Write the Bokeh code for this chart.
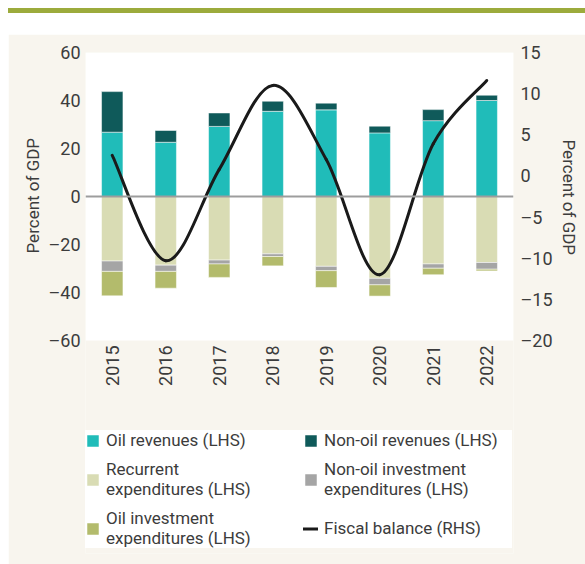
import numpy as np
from bokeh.plotting import figure
from bokeh.models import Range1d, LinearAxis, FixedTicker, Span, Legend, LegendItem, ColumnDataSource, Title
from bokeh.embed import file_html
from bokeh.resources import INLINE
from bokeh.core.properties import value

# ---------------- data ----------------
years = ["2015", "2016", "2017", "2018", "2019", "2020", "2021", "2022"]
oil_revenues = [26.8, 22.6, 29.2, 35.5, 36.1, 26.5, 31.6, 40.0]
non_oil_revenues = [16.9, 4.9, 5.6, 4.2, 2.8, 2.8, 4.6, 2.2]
recurrent_exp = [-26.9, -28.6, -26.5, -23.9, -29.1, -34.1, -28.1, -27.5]
non_oil_invest = [-4.3, -2.6, -1.6, -1.1, -1.8, -2.7, -1.8, -2.8]
oil_invest = [-10.2, -7.0, -5.6, -3.9, -7.0, -4.7, -2.7, -0.7]
fiscal_balance = [2.5, -10.3, 0.8, 11.0, 2.0, -12.0, 3.9, 11.6]

left_ticks = [-60, -40, -20, 0, 20, 40, 60]
left_tick_labels = ["\u201360", "\u201340", "\u201320", "0", "20", "40", "60"]
right_ticks = [-20, -15, -10, -5, 0, 5, 10, 15]
right_tick_labels = ["\u201320", "\u201315", "\u201310", "\u20135", "0", "5", "10", "15"]
axis_title = "Percent of GDP"

labels = ["Oil revenues (LHS)", "Non-oil revenues (LHS)",
          "Recurrent\nexpenditures (LHS)", "Non-oil investment\nexpenditures (LHS)",
          "Oil investment\nexpenditures (LHS)", "Fiscal balance (RHS)"]

# ---------------- style ----------------
FONT = "Roboto"
TXT = "#3c3c3c"
BEIGE = "#f8f5ee"
C_OIL = "#20bcb9"
C_NONOIL = "#0f5a5a"
C_REC = "#d9dcb4"
C_NOINV = "#a5a5a5"
C_OILINV = "#b3bb6c"
C_LINE = "#1a1a1a"

CHART_H = 288      # pixel height of the white plotting panel
EXTRA_H = 213      # pixel space below it for year labels and legend
FRAME_W = 428
TITLE_LEN = 114    # approximate pixel length of the axis titles

lo, hi = min(left_ticks), max(left_ticks)
rlo, rhi = min(right_ticks), max(right_ticks)
y_start = lo - EXTRA_H * (hi - lo) / CHART_H
r_start = rlo - EXTRA_H * (rhi - rlo) / CHART_H

xs = list(range(len(years)))
src = ColumnDataSource(dict(x=xs, oil=oil_revenues, nonoil=non_oil_revenues,
                            rec=recurrent_exp, noinv=non_oil_invest, oilinv=oil_invest))

p = figure(frame_width=FRAME_W, frame_height=CHART_H + EXTRA_H,
           x_range=Range1d(-0.5, len(years) - 0.5), y_range=Range1d(y_start, hi),
           x_axis_type=None, output_backend="svg", toolbar_location=None,
           min_border_left=77, min_border_right=72, min_border_top=18, min_border_bottom=11)
p.styles = {"margin-left": "8px", "margin-top": "8px",
            "border-top": "5px solid #9cab3c", "padding-top": "21px"}
p.extra_y_ranges = {"rhs": Range1d(r_start, rhi)}
p.border_fill_color = BEIGE
p.background_fill_color = BEIGE
p.outline_line_color = None
p.ygrid.visible = False

# white plotting panel
p.quad(left=-0.5, right=len(years) - 0.5, bottom=lo, top=hi, fill_color="white", line_color=None)

rev = p.vbar_stack(["oil", "nonoil"], x="x", width=0.4, source=src,
                   color=[C_OIL, C_NONOIL], line_color="white", line_alpha=0.5, line_width=1)
exp = p.vbar_stack(["rec", "noinv", "oilinv"], x="x", width=0.4, source=src,
                   color=[C_REC, C_NOINV, C_OILINV], line_color="white", line_alpha=0.5, line_width=1)

zero = Span(location=0, dimension="width", line_color="#9d9d9d", line_width=2, level="glyph")
p.add_layout(zero)

# smooth fiscal balance curve (Catmull-Rom bezier segments through the data points)
fx = np.array(xs, dtype=float)
fy = np.array(fiscal_balance, dtype=float)
n = len(fx)
x0, y0, x1, y1, cx0, cy0, cx1, cy1 = [], [], [], [], [], [], [], []
for i in range(n - 1):
    a = max(i - 1, 0)
    d = min(i + 2, n - 1)
    x0.append(fx[i]); y0.append(fy[i]); x1.append(fx[i + 1]); y1.append(fy[i + 1])
    cx0.append(fx[i] + (fx[i + 1] - fx[a]) / 6.0)
    cy0.append(fy[i] + (fy[i + 1] - fy[a]) / 6.0)
    cx1.append(fx[i + 1] - (fx[d] - fx[i]) / 6.0)
    cy1.append(fy[i + 1] - (fy[d] - fy[i]) / 6.0)
line = p.bezier(x0=x0, y0=y0, x1=x1, y1=y1, cx0=cx0, cy0=cy0, cx1=cx1, cy1=cy1,
                y_range_name="rhs", line_color=C_LINE, line_width=3, line_cap="round")

# year labels (rotated) just below the white panel
p.text(x=xs, y=[lo] * len(years), text=years, angle=np.pi / 2, text_align="right",
       text_baseline="middle", y_offset=5, text_font=value(FONT), text_font_size="18px",
       text_color=TXT)

# y axes
p.yaxis.ticker = FixedTicker(ticks=left_ticks)
p.yaxis.major_label_overrides = dict(zip(left_ticks, left_tick_labels))

rax = LinearAxis(y_range_name="rhs", ticker=FixedTicker(ticks=right_ticks),
                 major_label_overrides=dict(zip(right_ticks, right_tick_labels)))
p.add_layout(rax, "right")

for ax in [p.yaxis[0], rax]:
    ax.axis_line_color = None
    ax.major_tick_line_color = None
    ax.minor_tick_line_color = None
    ax.major_tick_out = 0
    ax.major_tick_in = 0
    ax.minor_tick_out = 0
    ax.minor_tick_in = 0
    ax.major_label_text_font = FONT
    ax.major_label_text_font_size = "18px"
    ax.major_label_text_color = TXT
p.yaxis.major_label_standoff = 5
rax.major_label_standoff = 7

# axis titles, centred on the white panel
left_offset = (CHART_H + EXTRA_H) - (CHART_H / 2 + TITLE_LEN / 2)
right_offset = CHART_H / 2 - TITLE_LEN / 2
lt = Title(text=axis_title, align="left", offset=left_offset, standoff=5,
           text_font=FONT, text_font_size="17px", text_font_style="normal", text_color=TXT)
p.add_layout(lt, "left")
rt = Title(text=axis_title, align="left", offset=right_offset, standoff=7,
           text_font=FONT, text_font_size="17px", text_font_style="normal", text_color=TXT)
p.add_layout(rt, "right")

renderers = [rev[0], rev[1], exp[0], exp[1], exp[2], line]
items = [LegendItem(label=l, renderers=[r]) for l, r in zip(labels, renderers)]
legend = Legend(items=items, location=(0, 5), orientation="horizontal", ncols=2,
                background_fill_color="white", background_fill_alpha=1.0,
                border_line_color=None, padding=17, spacing=9,
                glyph_width=15, glyph_height=15, label_standoff=6, label_width=188,
                label_text_font=FONT, label_text_font_size="17px", label_text_color=TXT,
                margin=0)
p.add_layout(legend)

open("out.html", "w").write(file_html(p, INLINE))
